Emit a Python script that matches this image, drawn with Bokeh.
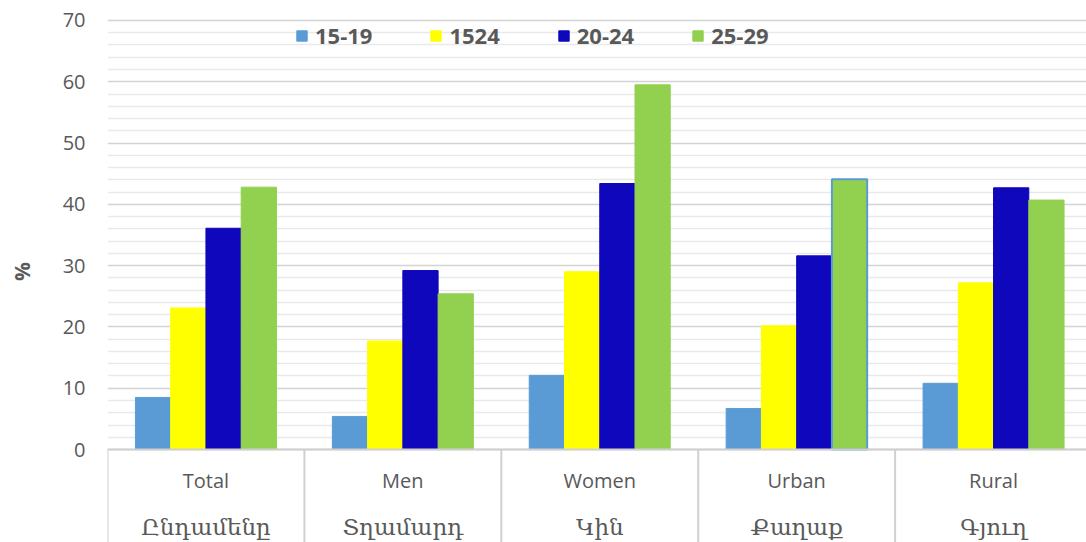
import numpy as np
from bokeh.plotting import figure
from bokeh.models import (Range1d, FixedTicker, Legend, LegendItem, Span,
                          ColumnDataSource)
from bokeh.core.properties import value
from bokeh.embed import file_html
from bokeh.resources import INLINE

# ---- data ----
categories_en = ["Total", "Men", "Women", "Urban", "Rural"]
categories_hy = ["Ընդամենը", "Տղամարդ", "Կին", "Քաղաք", "Գյուղ"]
series_names = ["15-19", "1524", "20-24", "25-29"]
v_15_19 = [8.5, 5.4, 12.1, 6.7, 10.8]
v_1524 = [23.1, 17.7, 29.0, 20.2, 27.2]
v_20_24 = [36.1, 29.2, 43.4, 31.6, 42.7]
v_25_29 = [42.8, 25.4, 59.5, 44.1, 40.7]
y_ticks = [0, 10, 20, 30, 40, 50, 60, 70]
y_minor = [v for v in range(2, 70, 2) if v % 10 != 0]

series_values = [v_15_19, v_1524, v_20_24, v_25_29]
colors = ["#5b9bd5", "#ffff00", "#0f07bb", "#92d050"]
highlight = ("Urban", "25-29")  # bar shown with blue outline in the reference

TXT = "#595959"
FONT = "Open Sans"

n = len(categories_en)
p = figure(width=1086, height=542, output_backend="svg", toolbar_location=None,
           x_range=Range1d(0, 4.972), y_range=Range1d(-15.17, 73.26),
           x_axis_location=None)
p.min_border = 0
p.min_border_left = 107
p.outline_line_color = None
p.background_fill_color = "white"

ticker = FixedTicker(ticks=y_ticks, minor_ticks=y_minor)
p.yaxis.ticker = ticker
p.ygrid.ticker = ticker
p.ygrid.grid_line_color = "#d4d4d4"
p.ygrid.grid_line_width = 1.5
p.ygrid.minor_grid_line_color = "#e9e9e9"
p.ygrid.minor_grid_line_width = 1.5
p.xgrid.visible = False

ax = p.yaxis[0]
ax.axis_line_color = None
ax.major_tick_line_color = None
ax.minor_tick_line_color = None
ax.major_label_standoff = 16
ax.major_label_text_font = FONT
ax.major_label_text_font_size = "20px"
ax.major_label_text_color = TXT
ax.axis_label = "%"
ax.axis_label_text_font = FONT
ax.axis_label_text_font_style = "bold"
ax.axis_label_text_font_size = "21px"
ax.axis_label_text_color = TXT
ax.axis_label_standoff = 24

# zero line
p.add_layout(Span(location=0, dimension="width", line_color="#cfcfcf", line_width=2))

# category dividers below the axis
bounds = np.arange(n + 1)
p.segment(x0=bounds, y0=np.zeros(n + 1), x1=bounds, y1=np.full(n + 1, -20.0),
          line_color="#d0d0d0", line_width=2)

# bars
w = 0.179
centers = np.arange(n) + 0.5
items = []
for k, (name, vals, col) in enumerate(zip(series_names, series_values, colors)):
    lc = ["#5b9bd5" if (c, name) == highlight else col for c in categories_en]
    lw = [2.0 if (c, name) == highlight else 1.0 for c in categories_en]
    src = ColumnDataSource(dict(x=centers + (k - 1.5) * w, top=vals, lc=lc, lw=lw))
    r = p.vbar(x="x", top="top", width=w, bottom=0, source=src,
               fill_color=col, line_color="lc", line_width="lw")
    items.append(LegendItem(label=name, renderers=[r], index=0))

# category labels
p.text(x=centers, y=np.full(n, -5.06), text=categories_en,
       text_font=value(FONT), text_font_size="20px", text_color=TXT,
       text_align="center", text_baseline="middle")
p.text(x=centers, y=np.full(n, -12.7), text=categories_hy,
       text_font=value("DejaVu Serif"), text_font_size="23px", text_color=TXT,
       text_align="center", text_baseline="middle")

legend = Legend(items=items, orientation="horizontal", location=(188, 492),
                padding=0, margin=0, spacing=57, glyph_width=13, glyph_height=13,
                label_standoff=7, label_text_font=FONT, label_text_font_size="22px",
                label_text_font_style="bold", label_text_color=TXT,
                border_line_color=None, background_fill_alpha=0)
p.add_layout(legend)

open("out.html", "w").write(file_html(p, INLINE))
